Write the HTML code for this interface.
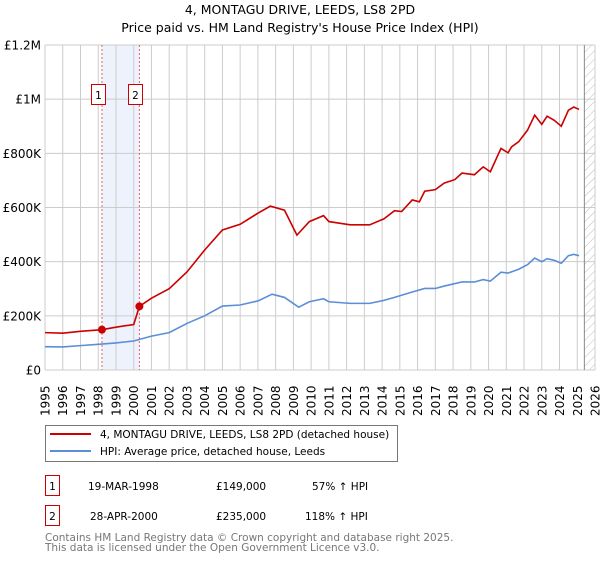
<!DOCTYPE html>
<html><head><meta charset="utf-8"><style>
body{margin:0;background:#fff;font-family:"Liberation Sans","DejaVu Sans",sans-serif;}
svg text{font-family:"DejaVu Sans","Liberation Sans",sans-serif;}
</style></head><body>
<svg id="chart" width="600" height="560" xmlns="http://www.w3.org/2000/svg">
<defs><pattern id="hatch" width="6" height="6" patternUnits="userSpaceOnUse" patternTransform="rotate(45)"><line x1="0" y1="0" x2="0" y2="6" stroke="#bbb" stroke-width="1"/></pattern></defs>
<text x="300" y="14" text-anchor="middle" font-size="12.5" fill="#000">4, MONTAGU DRIVE, LEEDS, LS8 2PD</text>
<text x="300" y="32" text-anchor="middle" font-size="12.5" fill="#000">Price paid vs. HM Land Registry's House Price Index (HPI)</text>
<g id="grid"></g><g id="marks"></g><g id="axes"></g>
<g>
<rect x="45.5" y="425.5" width="352" height="36" fill="#fff" stroke="#777"/>
<line x1="50" y1="434" x2="91" y2="434" stroke="#cc0000" stroke-width="2"/>
<text x="100" y="438" font-size="10.5">4, MONTAGU DRIVE, LEEDS, LS8 2PD (detached house)</text>
<line x1="50" y1="451" x2="91" y2="451" stroke="#5b8ed6" stroke-width="2"/>
<text x="100" y="455" font-size="10.5">HPI: Average price, detached house, Leeds</text>
</g>
<g font-size="10.5">
<rect x="45.5" y="475.5" width="14" height="20" fill="none" stroke="#cc0000"/><text x="52.5" y="490" text-anchor="middle">1</text>
<text x="88" y="490">19-MAR-1998</text><text x="216" y="490">£149,000</text><text x="312" y="490">57% ↑ HPI</text>
<rect x="45.5" y="505.5" width="14" height="20" fill="none" stroke="#cc0000"/><text x="52.5" y="520" text-anchor="middle">2</text>
<text x="90" y="520">28-APR-2000</text><text x="216" y="520">£235,000</text><text x="305" y="520">118% ↑ HPI</text>
</g>
<text x="45" y="541" font-size="10.5" fill="#777">Contains HM Land Registry data © Crown copyright and database right 2025.</text>
<text x="45" y="551" font-size="10.5" fill="#777">This data is licensed under the Open Government Licence v3.0.</text>
</svg>
<script>
const redYears=[1995,1996,1997,1998.21,1999,2000.0,2000.32,2001,2002,2003,2004,2005,2006,2007,2007.7,2008.5,2009.2,2009.9,2010.7,2011,2012.2,2013.3,2014.1,2014.7,2015.1,2015.7,2016.1,2016.4,2017,2017.5,2018.1,2018.5,2019.2,2019.7,2020.1,2020.7,2021.1,2021.3,2021.7,2022.2,2022.6,2023,2023.3,2023.7,2024.1,2024.5,2024.8,2025.1];
const redValues=[138,136,143,149,158,168,235,265,300,362,443,517,538,579,605,590,498,548,570,548,536,536,558,588,585,628,621,660,666,690,703,727,721,750,732,818,802,824,843,886,941,907,937,922,900,959,971,962];
const hpiYears=[1995,1996,1997,1998,1999,2000,2001,2002,2003,2004,2005,2006,2007,2007.8,2008.5,2009.3,2009.9,2010.7,2011,2012.2,2013.3,2014.1,2014.7,2015.7,2016.4,2017,2017.5,2018.5,2019.2,2019.7,2020.1,2020.7,2021.1,2021.7,2022.2,2022.6,2023,2023.3,2023.7,2024.1,2024.5,2024.8,2025.1];
const hpiValues=[86,85,90,95,100,107,125,138,172,200,236,240,255,280,268,232,252,263,252,246,246,257,268,288,301,301,310,325,325,334,328,361,358,372,389,413,400,411,405,394,422,427,422];
const saleYears=[1998.21,2000.32];
const saleValues=[149,235];
const saleLabels=["1","2"];
const yTicks=[0,200,400,600,800,1000,1200];
const yTickLabels=["£0","£200K","£400K","£600K","£800K","£1M","£1.2M"];
const xTicks=[1995,1996,1997,1998,1999,2000,2001,2002,2003,2004,2005,2006,2007,2008,2009,2010,2011,2012,2013,2014,2015,2016,2017,2018,2019,2020,2021,2022,2023,2024,2025,2026];
const NS="http://www.w3.org/2000/svg";
const X0=45,X1=595,Y0=370,Y1=45;
const xs=y=>X0+(y-1995)/(2026-1995)*(X1-X0);
const ys=v=>Y0-v/1200*(Y0-Y1);
function mk(tag,attrs,parent,txt){const e=document.createElementNS(NS,tag);for(const k in attrs)e.setAttribute(k,attrs[k]);if(txt!==undefined)e.textContent=txt;parent.appendChild(e);return e;}
const grid=document.getElementById('grid'),marks=document.getElementById('marks'),axes=document.getElementById('axes');
const band=mk('rect',{x:xs(saleYears[0]),y:Y1,width:xs(saleYears[1])-xs(saleYears[0]),height:Y0-Y1,fill:'#eef2fc'},grid);


const hx=xs(2025.4);
const hatch=mk('rect',{x:hx,y:Y1,width:X1-hx,height:Y0-Y1,fill:'url(#hatch)'},grid);


yTicks.forEach((t,i)=>{
  const l=mk('line',{x1:X0,x2:X1,y1:ys(t),y2:ys(t),stroke:'#ccc','stroke-width':1},grid);
  
  
  const tx=mk('text',{x:X0-4,y:ys(t)+4.5,'text-anchor':'end','font-size':12},axes,yTickLabels[i]);
  
  
});
xTicks.forEach(t=>{
  const l=mk('line',{x1:xs(t),x2:xs(t),y1:Y1,y2:Y0,stroke:'#ccc','stroke-width':1},grid);
  
  
  const tx=mk('text',{x:0,y:0,transform:`translate(${xs(t)+4.5},416) rotate(-90)`,'font-size':12},axes,String(t));
  
  
});
const hl=mk('line',{x1:hx,x2:hx,y1:Y1,y2:Y0,stroke:'#888','stroke-width':1},grid);


saleYears.forEach((y,i)=>{
  const l=mk('line',{x1:xs(y),x2:xs(y),y1:Y1,y2:Y0,stroke:'#e06060','stroke-width':1,'stroke-dasharray':'2,2'},marks);
  
  
  const bx=Math.round(xs(y))-10.5;
  const r=mk('rect',{x:bx,y:84.5,width:14,height:20,fill:'#fff',stroke:'#cc0000'},marks);
  
  
  const t=mk('text',{x:bx+7,y:99,'text-anchor':'middle','font-size':10.5},marks,saleLabels[i]);
  
  
});
const hp=mk('polyline',{points:hpiYears.map((y,i)=>xs(y)+','+ys(hpiValues[i])).join(' '),fill:'none',stroke:'#5b8ed6','stroke-width':1.6},marks);


const rp=mk('polyline',{points:redYears.map((y,i)=>xs(y)+','+ys(redValues[i])).join(' '),fill:'none',stroke:'#cc0000','stroke-width':1.6},marks);


saleYears.forEach((y,i)=>{
  const c=mk('circle',{cx:xs(y),cy:ys(saleValues[i]),r:4,fill:'#cc0000'},marks);
  
  
});
</script>
</body></html>
